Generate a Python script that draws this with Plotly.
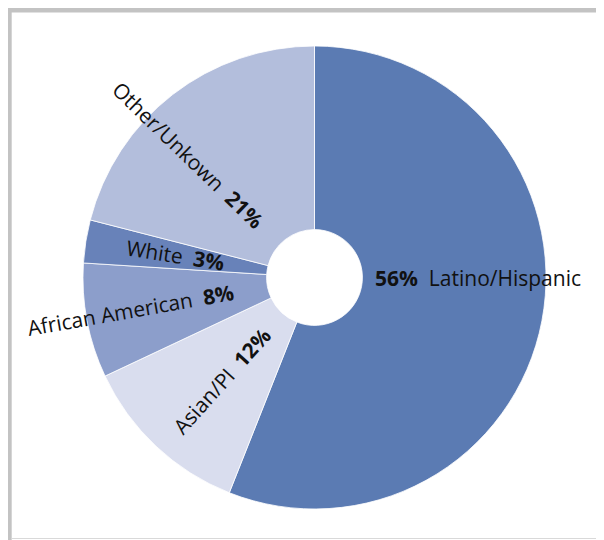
import math
import plotly.graph_objects as go

# ---- data ----
categories = ["Latino/Hispanic", "Asian/PI", "African American", "White", "Other/Unkown"]
values = [56, 12, 8, 3, 21]
pct_labels = ["56%", "12%", "8%", "3%", "21%"]

# ---- style ----
colors = ["#5b7bb3", "#d9ddee", "#8c9ecb", "#6882b9", "#b3bedc"]
OFF = 8                      # page body margin that the figure sits inside
W, H = 604 - OFF, 540 - OFF  # figure size
cx, cy, R = 314.5 - OFF, 277.5 - OFF, 231.5   # pie centre / radius in figure px
label_angle = [90, 222, 260, 279, 314]    # label direction, deg clockwise from 12 o'clock
label_rfrac = [0.705, 0.60, 0.805, 0.61, 0.76]
FONT = "Open Sans"
FSIZE = 21


def fx(px):
    return px / W


def fy(py):
    return 1 - py / H


fig = go.Figure(go.Pie(
    labels=categories, values=values, sort=False,
    direction="clockwise", rotation=0, hole=0.207,
    marker=dict(colors=colors, line=dict(color="white", width=0.8)),
    textinfo="none", hoverinfo="label+percent",
    domain=dict(x=[fx(cx - R), fx(cx + R)], y=[fy(cy + R), fy(cy - R)]),
))

annotations = []
for cat, pct, ang, rf in zip(categories, pct_labels, label_angle, label_rfrac):
    t = math.radians(ang)
    r = rf * R
    px = cx + r * math.sin(t)
    py = cy - r * math.cos(t)
    if ang < 180:
        txt = f"<b>{pct}</b>&nbsp;&nbsp;{cat}"
        rot = math.degrees(math.atan2(-math.cos(t), math.sin(t)))
    else:
        txt = f"{cat}&nbsp;&nbsp;<b>{pct}</b>"
        rot = math.degrees(math.atan2(math.cos(t), -math.sin(t)))
    annotations.append(dict(
        x=fx(px), y=fy(py), xref="paper", yref="paper",
        text=txt, showarrow=False, textangle=rot,
        xanchor="center", yanchor="middle",
        font=dict(family=FONT, size=FSIZE, color="#111111"),
    ))

shapes = [
    dict(type="rect", xref="paper", yref="paper",
         x0=fx(7 - OFF), x1=fx(11.7 - OFF), y0=fy(540), y1=fy(8 - OFF),
         fillcolor="#c3c3c3", line=dict(width=0), layer="above"),
    dict(type="rect", xref="paper", yref="paper",
         x0=fx(7 - OFF), x1=fx(604), y0=fy(12.5 - OFF), y1=fy(8 - OFF),
         fillcolor="#c3c3c3", line=dict(width=0), layer="above"),
    dict(type="line", xref="paper", yref="paper",
         x0=fx(11.7 - OFF), x1=fx(604), y0=fy(538.5 - OFF), y1=fy(538.5 - OFF),
         line=dict(color="#d9d9d9", width=1.2), layer="above"),
]

fig.update_layout(
    width=W, height=H, margin=dict(l=0, r=0, t=0, b=0),
    paper_bgcolor="white", plot_bgcolor="white",
    showlegend=False, annotations=annotations, shapes=shapes,
)

fig.write_html("out.html")
